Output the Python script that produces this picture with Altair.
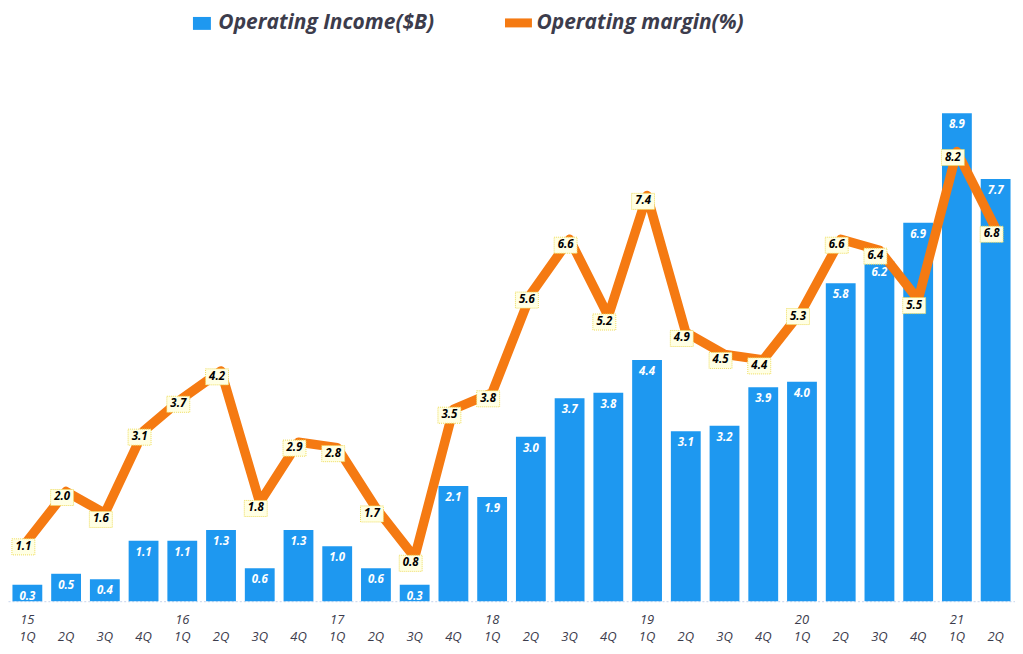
import altair as alt
import pandas as pd

periods = ["15|1Q", "15|2Q", "15|3Q", "15|4Q",
           "16|1Q", "16|2Q", "16|3Q", "16|4Q",
           "17|1Q", "17|2Q", "17|3Q", "17|4Q",
           "18|1Q", "18|2Q", "18|3Q", "18|4Q",
           "19|1Q", "19|2Q", "19|3Q", "19|4Q",
           "20|1Q", "20|2Q", "20|3Q", "20|4Q",
           "21|1Q", "21|2Q"]
income = [0.3, 0.5, 0.4, 1.1, 1.1, 1.3, 0.6, 1.3, 1.0, 0.6, 0.3, 2.1, 1.9,
          3.0, 3.7, 3.8, 4.4, 3.1, 3.2, 3.9, 4.0, 5.8, 6.2, 6.9, 8.9, 7.7]
margin = [1.1, 2.0, 1.6, 3.1, 3.7, 4.2, 1.8, 2.9, 2.8, 1.7, 0.8, 3.5, 3.8,
          5.6, 6.6, 5.2, 7.4, 4.9, 4.5, 4.4, 5.3, 6.6, 6.4, 5.5, 8.2, 6.8]
series_names = ["Operating Income($B)", "Operating margin(%)"]

BLUE = "#1E98F0"
ORANGE = "#F57A12"
FONT = "Open Sans"
TXT = "#3C3C4C"

df = pd.DataFrame({
    "period": periods,
    "income": income,
    "margin": margin,
    "inc_series": series_names[0],
    "mar_series": series_names[1],
})

x = alt.X(
    "period:N", sort=periods,
    scale=alt.Scale(paddingInner=0.23, paddingOuter=0.115),
    axis=alt.Axis(
        title=None, labelAngle=0, ticks=False,
        labelExpr="[indexof(datum.value, '1Q') >= 0 ? split(datum.value, '|')[0] : '', split(datum.value, '|')[1]]",
        labelFont=FONT, labelFontStyle="italic", labelFontSize=13,
        labelColor=TXT, labelPadding=12, labelLineHeight=17,
        domainColor="#C8D4EC", domainDash=[2, 2], domainWidth=1,
    ),
)
yscale = alt.Scale(domain=[0, 10], nice=False, zero=True)

base = alt.Chart(df)

bars = base.mark_bar().encode(
    x=x,
    y=alt.Y("income:Q", scale=yscale, axis=None),
    color=alt.Color(
        "inc_series:N",
        scale=alt.Scale(domain=[series_names[0]], range=[BLUE]),
        legend=alt.Legend(
            orient="none", legendX=184, legendY=-40, title=None,
            symbolType="M-1,-0.72L1,-0.72L1,0.72L-1,0.72Z", symbolSize=324,
            symbolStrokeWidth=0,
            labelFont=FONT, labelFontSize=21, labelFontStyle="italic",
            labelFontWeight="bold", labelColor=TXT, labelOffset=6, padding=0,
            labelLimit=400,
        ),
    ),
)

bar_labels = base.mark_text(
    baseline="top", dy=6, color="white", font=FONT, fontSize=11.5,
    fontWeight="bold", fontStyle="italic",
).encode(
    x=x,
    y=alt.Y("income:Q", scale=yscale, axis=None),
    text=alt.Text("income:Q", format=".1f"),
)

line = base.mark_line(strokeWidth=9.5, strokeCap="round", strokeJoin="round").encode(
    x=x,
    y=alt.Y("margin:Q", scale=yscale, axis=None),
    stroke=alt.Stroke(
        "mar_series:N",
        scale=alt.Scale(domain=[series_names[1]], range=[ORANGE]),
        legend=alt.Legend(
            orient="none", legendX=494, legendY=-48, title=None,
            symbolType="stroke", symbolSize=729, symbolStrokeWidth=9,
            labelFont=FONT, labelFontSize=21, labelFontStyle="italic",
            labelFontWeight="bold", labelColor=TXT, labelOffset=0, padding=0,
            labelLimit=400,
        ),
    ),
)

boxes = base.mark_point(
    shape="M-1,-0.7L1,-0.7L1,0.7L-1,0.7Z", size=529, filled=True,
    fill="#FFFFE4", stroke="#EEDC5A", strokeWidth=1, strokeDash=[1, 1],
    opacity=1, xOffset=-4, yOffset=6,
).encode(
    x=x,
    y=alt.Y("margin:Q", scale=yscale, axis=None),
)

line_labels = base.mark_text(
    dx=-4, dy=6, color="black", font=FONT, fontSize=11.5,
    fontWeight="bold", fontStyle="italic", baseline="middle",
).encode(
    x=x,
    y=alt.Y("margin:Q", scale=yscale, axis=None),
    text=alt.Text("margin:Q", format=".1f"),
)

chart = alt.layer(bars, bar_labels, line, boxes, line_labels).properties(
    width=1010, height=550,
    autosize=alt.AutoSizeParams(type="none"),
    padding={"left": 0, "top": 44, "right": 0, "bottom": 50},
).configure_view(stroke=None).resolve_legend(color="independent", stroke="independent")

chart.save("out.html", embed_options={"renderer": "svg", "actions": False})
